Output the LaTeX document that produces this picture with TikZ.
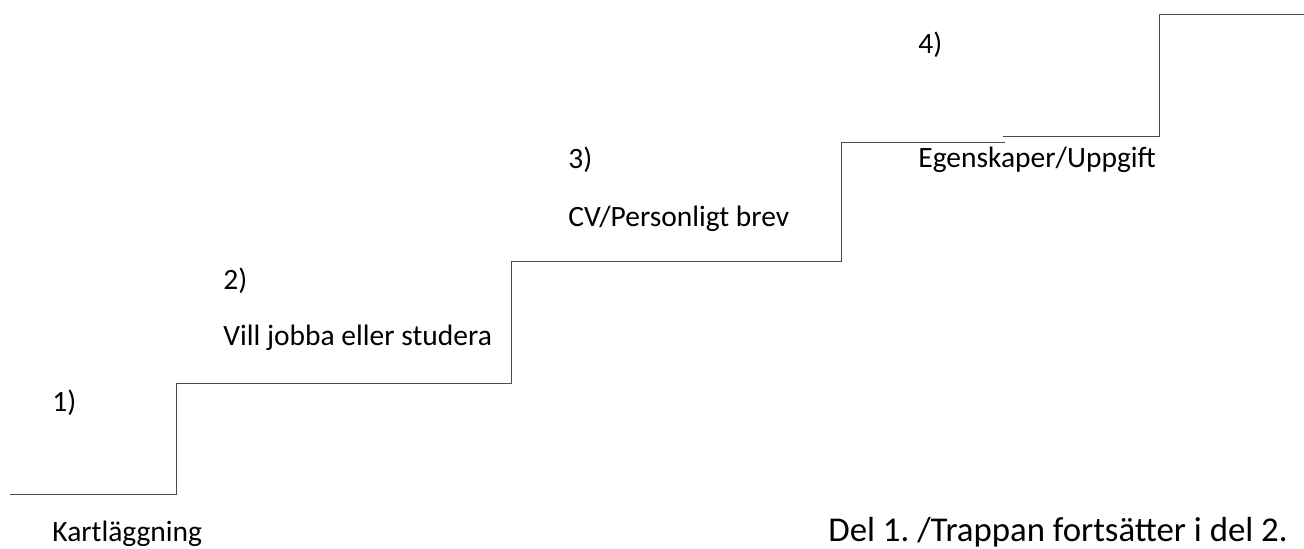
\documentclass[tikz,border=0pt]{standalone}
\usepackage{fontspec}
\setmainfont{Carlito}
\usepackage{tikz}
\frenchspacing

\begin{document}
\begin{tikzpicture}[x=0.5pt, y=-0.5pt,
    label/.style={anchor=base west, inner sep=0pt, font=\fontsize{14.75}{17}\selectfont},
    trappa/.style={draw=black!70, line width=0.5pt}]
      \useasboundingbox (0, 0) rectangle (1304, 549);

      \draw[trappa] (10, 494) -- (176, 494) -- (176, 384) -- (511, 384) -- (511, 262)
        -- (841, 262) -- (841, 143) -- (1005, 143);
      \draw[trappa] (1003, 137) -- (1159, 137) -- (1159, 15) -- (1304, 15);

      \node[label] (n1) at (52, 411){1)};
      \node[label] (k1) at (52, 541){Kartläggning};
      \node[label] (n2) at (223, 290){2)};
      \node[label] (k2) at (223, 346){Vill jobba eller studera};
      \node[label] (n3) at (568, 169){3)};
      \node[label] (k3) at (568, 227){CV/Personligt brev};
      \node[label] (n4) at (918, 54){4)};
      \node[label] (k4) at (918, 168){Egenskaper/Uppgift};
      \node[label, font=\fontsize{17.4}{20}\selectfont] (del) at (828, 541){Del 1. /Trappan fortsätter i del 2.};
    \end{tikzpicture}
\end{document}
